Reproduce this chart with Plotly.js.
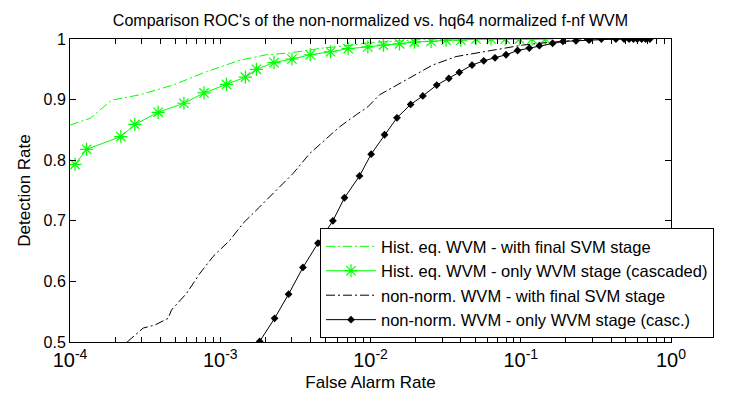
<!DOCTYPE html>
<html>
<head>
<meta charset="utf-8">
<script src="https://cdn.plot.ly/plotly-3.0.1.min.js"></script>
<style>html,body{margin:0;padding:0;background:#fff;}#chart{width:735px;height:397px;}</style>
</head>
<body>
<div id="chart"></div>
<script>
// Hist. eq. WVM - with final SVM stage (green dash-dot)
const heSvmX = [1.0e-4, 1.36e-4, 1.89e-4, 2.26e-4, 2.92e-4, 4.85e-4, 8.09e-4, 1.35e-3, 2.03e-3, 2.90e-3, 4.80e-3, 7.6e-3, 9.8e-3, 1.58e-2, 2.5e-2, 0.15];
const heSvmY = [0.858, 0.869, 0.899, 0.903, 0.908, 0.924, 0.946, 0.965, 0.974, 0.977, 0.985, 0.990, 0.994, 0.997, 1.0, 1.0];

// Hist. eq. WVM - only WVM stage (cascaded) (green stars)
const heCascX = [1.08e-4, 1.29e-4, 2.18e-4, 2.70e-4, 3.86e-4, 5.73e-4, 7.8e-4, 1.10e-3, 1.47e-3, 1.74e-3, 2.28e-3, 3.0e-3, 3.97e-3, 5.42e-3, 7.1e-3, 9.6e-3, 1.22e-2, 1.56e-2, 1.96e-2, 2.53e-2, 3.18e-2, 4.0e-2, 5.04e-2, 6.34e-2, 7.9e-2, 9.8e-2, 0.119, 0.146];
const heCascY = [0.793, 0.818, 0.839, 0.859, 0.879, 0.894, 0.911, 0.925, 0.937, 0.950, 0.961, 0.967, 0.974, 0.979, 0.984, 0.987, 0.990, 0.992, 0.995, 0.996, 0.998, 0.998, 1.0, 1.0, 1.0, 1.0, 1.0, 1.0];

// non-norm. WVM - with final SVM stage (black dash-dot)
const nnSvmX = [2.40e-4, 2.77e-4, 3.07e-4, 3.67e-4, 4.50e-4, 4.74e-4, 5.96e-4, 7.31e-4, 8.95e-4, 1.16e-3, 1.42e-3, 1.83e-3, 2.03e-3, 3.05e-3, 3.94e-3, 4.82e-3, 6.22e-3, 8.04e-3, 9.6e-3, 1.15e-2, 1.64e-2, 2.59e-2, 3.71e-2, 5.57e-2, 7.98e-2, 0.103, 0.147, 0.221, 0.30, 0.70];
const nnSvmY = [0.500, 0.514, 0.523, 0.528, 0.539, 0.553, 0.580, 0.613, 0.641, 0.668, 0.696, 0.723, 0.734, 0.778, 0.811, 0.831, 0.855, 0.875, 0.888, 0.908, 0.930, 0.957, 0.971, 0.979, 0.986, 0.990, 0.994, 0.997, 1.0, 1.0];

// non-norm. WVM - only WVM stage (casc.) (black diamonds)
const nnCascX = [1.83e-3, 2.30e-3, 2.85e-3, 3.55e-3, 4.47e-3, 5.62e-3, 6.71e-3, 8.45e-3, 1.01e-2, 1.24e-2, 1.50e-2, 1.85e-2, 2.23e-2, 2.76e-2, 3.32e-2, 3.9e-2, 4.74e-2, 5.67e-2, 6.74e-2, 7.98e-2, 9.53e-2, 0.114, 0.133, 0.163, 0.191, 0.233, 0.285, 0.344, 0.43, 0.487, 0.526, 0.562, 0.597, 0.638, 0.679, 0.723];
const nnCascY = [0.501, 0.539, 0.579, 0.623, 0.663, 0.700, 0.738, 0.774, 0.810, 0.842, 0.870, 0.892, 0.906, 0.924, 0.935, 0.945, 0.957, 0.964, 0.969, 0.974, 0.981, 0.985, 0.989, 0.993, 0.996, 0.997, 0.998, 1.0, 1.0, 1.0, 1.0, 1.0, 1.0, 1.0, 1.0, 1.0];

const legendNames = [
  'Hist. eq. WVM - with final SVM stage',
  'Hist. eq. WVM - only WVM stage (cascaded)',
  'non-norm. WVM - with final SVM stage',
  'non-norm. WVM - only WVM stage (casc.)'
];
const yTickVals = [0.5, 0.6, 0.7, 0.8, 0.9, 1];
const yTickText = ['0.5', '0.6', '0.7', '0.8', '0.9', '1'];
const xDecades = [1e-4, 1e-3, 1e-2, 1e-1, 1];
const xDecadeText = ['10<sup>-4</sup>', '10<sup>-3</sup>', '10<sup>-2</sup>', '10<sup>-1</sup>', '10<sup>0</sup>'];
const xMinorMult = [2, 3, 4, 5, 6, 7, 8, 9];

// build tick arrays (major labelled, minor blank)
const xTickVals = [];
const xTickText = [];
xDecades.forEach((d, i) => {
  xTickVals.push(d); xTickText.push(xDecadeText[i]);
  if (i < xDecades.length - 1) xMinorMult.forEach(m => { xTickVals.push(d * m); xTickText.push(''); });
});

const green = '#00ff00';
const dashDot = '9px,3px,2px,3px';

const traces = [
  {x: heSvmX, y: heSvmY, name: legendNames[0], mode: 'lines', type: 'scatter',
   line: {color: green, width: 1, dash: dashDot}},
  {x: heCascX, y: heCascY, name: legendNames[1], mode: 'lines+markers', type: 'scatter',
   line: {color: green, width: 1},
   marker: {symbol: 'asterisk-open', size: 11, color: green, line: {color: green, width: 1.2}}},
  {x: nnSvmX, y: nnSvmY, name: legendNames[2], mode: 'lines', type: 'scatter',
   line: {color: '#000', width: 1, dash: dashDot}},
  {x: nnCascX, y: nnCascY, name: legendNames[3], mode: 'lines+markers', type: 'scatter',
   line: {color: '#000', width: 1},
   marker: {symbol: 'diamond', size: 6, color: '#000'}}
];

const fontFam = '"Liberation Sans", Arial, sans-serif';
const layout = {
  width: 735, height: 397,
  margin: {l: 70, r: 64, t: 39, b: 55, pad: 0},
  paper_bgcolor: '#fff', plot_bgcolor: '#fff',
  font: {family: fontFam, size: 16, color: '#000'},
  title: {text: "Comparison ROC's of the non-normalized vs. hq64 normalized f-nf WVM",
          font: {family: fontFam, size: 16, color: '#000'},
          x: 0.5, xref: 'paper', xanchor: 'center', y: 1 - 20 / 397, yref: 'container', yanchor: 'middle'},
  xaxis: {
    type: 'log', range: [-4, 0], tickmode: 'array', tickvals: xTickVals, ticktext: xTickText,
    showgrid: false, zeroline: false, automargin: false,
    showline: true, linecolor: '#000', linewidth: 1, mirror: 'allticks',
    ticks: 'inside', ticklen: 5, tickcolor: '#000',
    tickfont: {family: fontFam, size: 20},
    title: {text: 'False Alarm Rate', font: {family: fontFam, size: 17}, standoff: 6}
  },
  yaxis: {
    range: [0.5, 1], tickmode: 'array', tickvals: yTickVals, ticktext: yTickText,
    showgrid: false, zeroline: false, automargin: false,
    showline: true, linecolor: '#000', linewidth: 1, mirror: 'allticks',
    ticks: 'inside', ticklen: 6, tickcolor: '#000',
    tickfont: {family: fontFam, size: 16},
    title: {text: 'Detection Rate', font: {family: fontFam, size: 17}, standoff: 8}
  },
  showlegend: true,
  legend: {
    x: 0.416, y: 0.376, xanchor: 'left', yanchor: 'top',
    bgcolor: '#fff', bordercolor: '#000', borderwidth: 1,
    font: {family: fontFam, size: 16.5}, tracegroupgap: 0, itemwidth: 50
  }
};

Plotly.newPlot('chart', traces, layout, {displayModeBar: false, staticPlot: true});
</script>
</body>
</html>
